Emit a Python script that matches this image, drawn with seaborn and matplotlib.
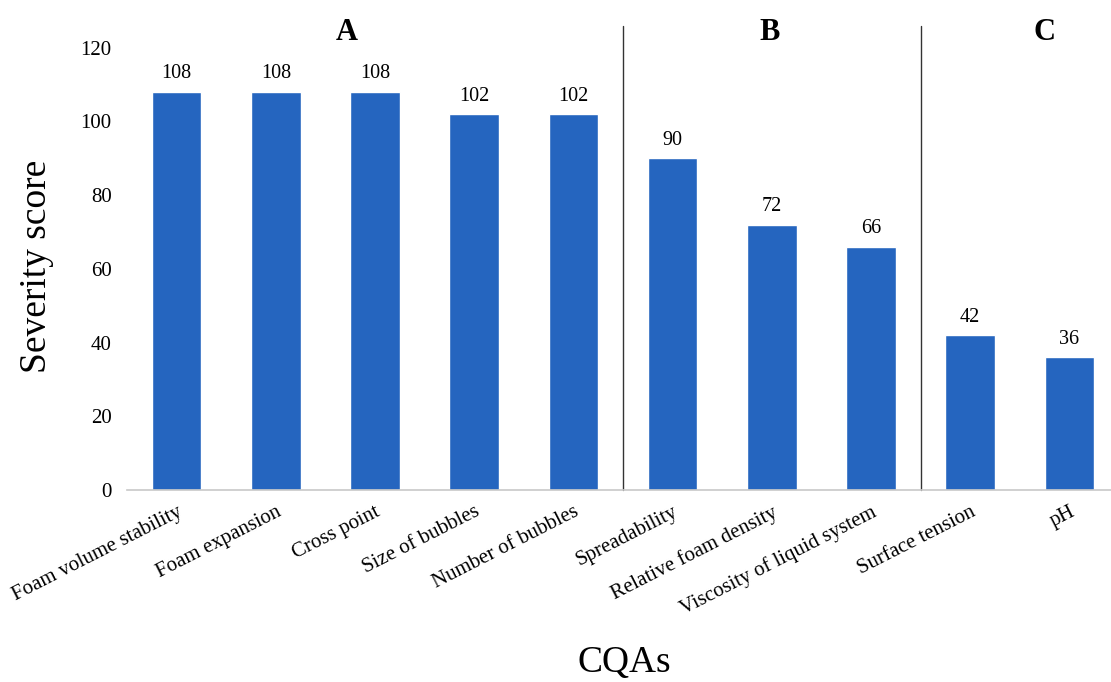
import matplotlib
matplotlib.use("Agg")
import matplotlib.pyplot as plt
import seaborn as sns
import pandas as pd

categories = ["Foam volume stability", "Foam expansion", "Cross point", "Size of bubbles",
              "Number of bubbles", "Spreadability", "Relative foam density",
              "Viscosity of liquid system", "Surface tension", "pH"]
scores = [108, 108, 108, 102, 102, 90, 72, 66, 42, 36]
group_labels = ["A", "B", "C"]
yticks = [0, 20, 40, 60, 80, 100, 120]

sns.set_theme(style="white")
plt.rcParams['font.family'] = ['Liberation Serif', 'DejaVu Serif']
plt.rcParams['text.color'] = 'black'

df = pd.DataFrame({"CQA": categories, "score": scores})

fig = plt.figure(figsize=(11.11, 6.82), dpi=100)
ax = fig.add_axes([127/1111, 1 - 490/682, (1111 - 127)/1111, (490 - 20)/682])
sns.barplot(data=df, x="CQA", y="score", color="#2565BF", width=0.5, saturation=1, ax=ax)

for i, v in enumerate(scores):
    ax.text(i, v + 2.3, str(v), ha="center", va="bottom", fontsize=14.5, color="black")

ax.set_xlim(-0.5, 9.42)
ax.set_ylim(0, 127.5)
ax.set_yticks(yticks)
ax.set_yticklabels([str(t) for t in yticks], fontsize=15)
ax.tick_params(axis="y", length=0, pad=11, colors="black")
ax.tick_params(axis="x", length=0, pad=9, colors="black")
ax.set_xticks(range(len(categories)))
ax.set_xticklabels(categories, rotation=27, ha="right", rotation_mode="anchor", fontsize=15)

for s in ["top", "right", "left"]:
    ax.spines[s].set_visible(False)
ax.spines["bottom"].set_color("#c8c8c8")
ax.spines["bottom"].set_linewidth(1.2)

for xv in [4.5, 7.5]:
    ax.plot([xv, xv], [0, 126], color="#333333", lw=1, clip_on=False)

for lab, xv in zip(group_labels, [1.72, 5.98, 8.75]):
    ax.text(xv, 124, lab, ha="center", va="center", fontsize=22, fontweight="bold")

ax.set_ylabel("")
ax.set_xlabel("")
fig.text(37/1111, 1 - 266/682, "Severity score", rotation=90, ha="center", va="center", fontsize=27)
fig.text(624/1111, 1 - 663/682, "CQAs", ha="center", va="center", fontsize=27)

fig.savefig("out.png", dpi=100)
